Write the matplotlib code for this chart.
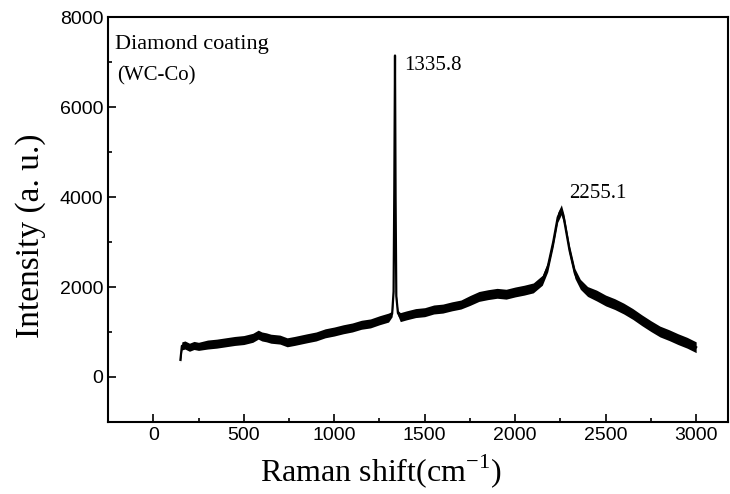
import matplotlib.pyplot as plt
import numpy as np

# Raman spectrum (centre of the noisy trace) and band half-width
shift = [150, 158, 175, 200, 225, 250, 300, 350, 400, 450, 500, 550, 580, 600,
         625, 650, 700, 740, 780, 850, 900, 950, 1000, 1050, 1100, 1150, 1200,
         1250, 1300, 1320, 1328, 1332, 1335.8, 1339, 1343, 1352, 1365, 1400,
         1450, 1500, 1550, 1600, 1650, 1700, 1750, 1800, 1850, 1900, 1950, 2000,
         2050, 2100, 2150, 2180, 2210, 2235, 2255.1, 2270, 2300, 2330, 2360, 2400,
         2450, 2500, 2550, 2600, 2650, 2700, 2750, 2800, 2850, 2900, 2950, 3000]
intensity = [380, 690, 710, 660, 700, 680, 720, 740, 770, 800, 820, 870, 940, 900,
             880, 850, 830, 770, 800, 860, 900, 970, 1010, 1060, 1100, 1160, 1190,
             1260, 1320, 1400, 1900, 4200, 7150, 4000, 1800, 1420, 1330, 1370,
             1420, 1440, 1500, 1520, 1570, 1610, 1700, 1790, 1830, 1860, 1840, 1890,
             1930, 1980, 2150, 2450, 3000, 3550, 3720, 3500, 2820, 2300, 2060, 1900,
             1810, 1700, 1620, 1520, 1400, 1260, 1130, 1010, 930, 840, 760, 660]
noise = [60, 90, 90, 90, 90, 90, 100, 100, 100, 100, 100, 100, 100, 100,
         100, 100, 100, 100, 100, 100, 100, 100, 100, 100, 100, 100, 100,
         100, 100, 60, 40, 30, 20, 30, 40, 60, 100, 100,
         100, 100, 100, 100, 100, 100, 110, 110, 110, 110, 110, 110,
         110, 110, 110, 110, 110, 110, 110, 110, 110, 110, 110, 110,
         120, 120, 120, 120, 120, 120, 120, 120, 120, 120, 120, 120]

x_ticks = [0, 500, 1000, 1500, 2000, 2500, 3000]
y_ticks = [0, 2000, 4000, 6000, 8000]

serif = 'Liberation Serif'
sans = 'Liberation Sans'
plt.rcParams['mathtext.fontset'] = 'custom'
plt.rcParams['mathtext.rm'] = serif

fig = plt.figure(figsize=(7.3, 4.94), dpi=100)
ax = fig.add_axes([0.148, 0.146, 0.849, 0.819])

s = np.array(shift)
c = np.array(intensity)
n = np.array(noise)
ax.fill_between(s, c - n, c + n, color='black', linewidth=0)
ax.plot(s, c, color='black', linewidth=1.6)

ax.set_xlim(-250, 3175)
ax.set_ylim(-1000, 8000)
ax.set_xticks(x_ticks)
ax.set_yticks(y_ticks)
ax.set_xticks(np.arange(-250, 3175, 250), minor=True)
ax.set_yticks(np.arange(-1000, 8001, 1000), minor=True)
ax.tick_params(which='both', direction='in', width=1.2, labelsize=14)
ax.tick_params(which='major', length=6)
ax.tick_params(which='minor', length=3)
for lab in ax.get_xticklabels() + ax.get_yticklabels():
    lab.set_fontfamily(sans)
for sp in ax.spines.values():
    sp.set_linewidth(1.5)

ax.set_xlabel('Raman shift(cm$^{\\mathrm{-1}}$)', fontfamily=serif, fontsize=23)
ax.set_ylabel('Intensity (a. u.)', fontfamily=serif, fontsize=24)
ax.xaxis.set_label_coords(0.44, -0.075)
ax.yaxis.set_label_coords(-0.1, 0.46)

ax.text(0.012, 0.955, 'Diamond coating', transform=ax.transAxes, fontfamily=serif,
        fontsize=16, va='top', ha='left')
ax.text(0.015, 0.88, '(WC-Co)', transform=ax.transAxes, fontfamily=serif,
        fontsize=15, va='top', ha='left')
ax.text(1385, 7150, '1335.8', fontfamily=serif, fontsize=15, va='top', ha='left')
ax.text(2300, 4300, '2255.1', fontfamily=serif, fontsize=15, va='top', ha='left')

fig.savefig('out.png', dpi=100)
